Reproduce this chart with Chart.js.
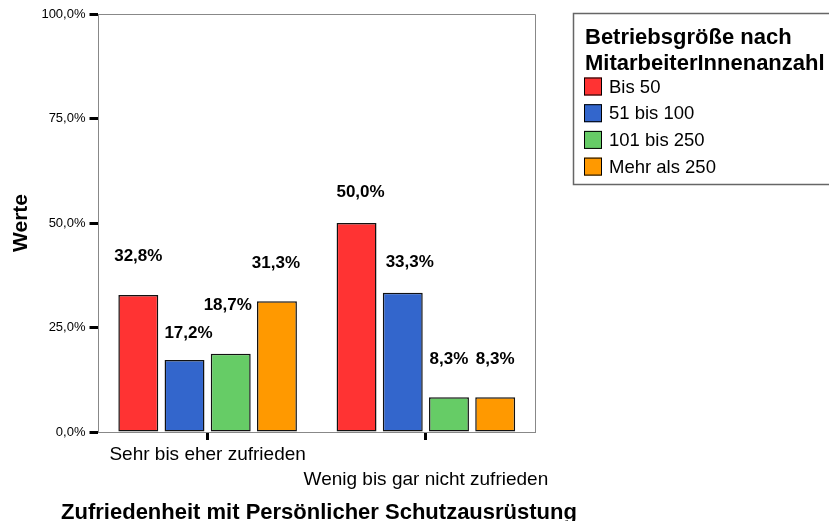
<!DOCTYPE html>
<html>
<head>
<meta charset="utf-8">
<script src="https://cdn.jsdelivr.net/npm/chart.js@4.4.0/dist/chart.umd.min.js"></script>
<style>
    body { margin: 0; background: #fff; }
    #wrap { width: 829px; height: 521px; }
</style>
</head>
<body>
<div id="wrap"><canvas id="chart" width="829" height="521"></canvas></div>
<script>
// Daten aus dem Diagramm
const kategorien = ["Sehr bis eher zufrieden", "Wenig bis gar nicht zufrieden"];
const gruppen = ["Bis 50", "51 bis 100", "101 bis 250", "Mehr als 250"];
const bis50 = [32.8, 50.0];
const bis100 = [17.2, 33.3];
const bis250 = [18.7, 8.3];
const mehr250 = [31.3, 8.3];
const yTicks = [0, 25, 50, 75, 100];

const farben = ["#ff3333", "#3366cc", "#66cc66", "#ff9900"];
const FONT = "'Liberation Sans', Arial, sans-serif";

// Verschiebung der Wertbeschriftungen [dx, dy über Balkenoberkante] (SPSS setzt sie etwas unregelmäßig)
const labelVersatz = [
    [[0, 39], [4, 31]],
    [[4, 27], [7, 30]],
    [[-3, 49], [0, 38]],
    [[-1, 38], [0, 38]]
];

const fmt = v => v.toFixed(1).replace(".", ",") + "%";

// Rahmen, Titel, Wertbeschriftungen und Legende
const zeichnenPlugin = {
    id: "spssExtras",
    afterDatasetsDraw(chart) {
        const ctx = chart.ctx;
        const a = chart.chartArea;
        ctx.save();

        // Rahmen oben/rechts
        ctx.strokeStyle = "#888";
        ctx.lineWidth = 1;
        ctx.beginPath();
        ctx.moveTo(a.left, a.top + 0.5);
        ctx.lineTo(a.right + 0.5, a.top + 0.5);
        ctx.lineTo(a.right + 0.5, a.bottom);
        ctx.stroke();

        // Wertbeschriftungen
        ctx.fillStyle = "#000";
        ctx.font = "bold 17px " + FONT;
        ctx.textAlign = "center";
        ctx.textBaseline = "middle";
        chart.data.datasets.forEach((ds, i) => {
            const meta = chart.getDatasetMeta(i);
            meta.data.forEach((bar, j) => {
                const off = labelVersatz[i][j];
                ctx.fillText(fmt(ds.data[j]), bar.x + off[0], bar.y - off[1]);
            });
        });

        // Achsentitel
        ctx.font = "bold 22px " + FONT;
        ctx.textBaseline = "alphabetic";
        ctx.fillText("Zufriedenheit mit Persönlicher Schutzausrüstung", 319, 519);
        ctx.save();
        ctx.translate(27, (a.top + a.bottom) / 2);
        ctx.rotate(-Math.PI / 2);
        ctx.font = "bold 21px " + FONT;
        ctx.fillText("Werte", 0, 0);
        ctx.restore();

        // Legende
        ctx.strokeStyle = "#666";
        ctx.lineWidth = 1.5;
        ctx.strokeRect(573.5, 13.5, 300, 171);
        ctx.textAlign = "left";
        ctx.font = "bold 22px " + FONT;
        ctx.fillText("Betriebsgröße nach", 585, 44);
        ctx.fillText("MitarbeiterInnenanzahl", 585, 70);
        ctx.font = "18.5px " + FONT;
        ctx.textBaseline = "middle";
        chart.data.datasets.forEach((ds, i) => {
            const yc = 86.5 + i * 26.7;
            ctx.fillStyle = ds.backgroundColor;
            ctx.fillRect(584, yc - 9, 18, 18);
            ctx.strokeStyle = "#000";
            ctx.lineWidth = 1;
            ctx.strokeRect(584.5, yc - 8.5, 17, 17);
            ctx.fillStyle = "#000";
            ctx.fillText(ds.label, 609, yc + 1);
        });

        ctx.restore();
    }
};

const datenreihen = [bis50, bis100, bis250, mehr250].map((werte, i) => ({
    label: gruppen[i],
    data: werte,
    backgroundColor: farben[i],
    borderColor: "#111",
    borderWidth: 1.5,
    borderSkipped: false,
    categoryPercentage: 0.847,
    barPercentage: 0.864
}));

new Chart(document.getElementById("chart"), {
    type: "bar",
    data: { labels: kategorien, datasets: datenreihen },
    options: {
        responsive: false,
        devicePixelRatio: 1,
        animation: false,
        layout: { padding: { left: 0, top: 14, right: 294, bottom: 0 } },
        plugins: { legend: { display: false }, tooltip: { enabled: false } },
        scales: {
            x: {
                afterFit: s => { s.height = 89; },
                grid: { display: true, drawOnChartArea: false, offset: false, tickLength: 8, tickWidth: 3, tickColor: "#000" },
                border: { display: true, color: "#888", width: 1 },
                ticks: {
                    autoSkip: false,
                    maxRotation: 0,
                    padding: 2,
                    color: "#000",
                    font: { family: FONT, size: 19, lineHeight: "25px" },
                    callback: (v, i) => i % 2 === 1 ? ["", kategorien[i]] : kategorien[i]
                }
            },
            y: {
                min: 0,
                max: 100,
                afterFit: s => { s.width = 98.5; },
                afterBuildTicks: s => { s.ticks = yTicks.map(v => ({ value: v })); },
                grid: { display: true, drawOnChartArea: false, tickLength: 9, tickWidth: 3, tickColor: "#000" },
                border: { display: true, color: "#888", width: 1 },
                ticks: {
                    padding: 4,
                    color: "#000",
                    font: { family: FONT, size: 13 },
                    callback: v => fmt(v)
                }
            }
        }
    },
    plugins: [zeichnenPlugin]
});
</script>
</body>
</html>
